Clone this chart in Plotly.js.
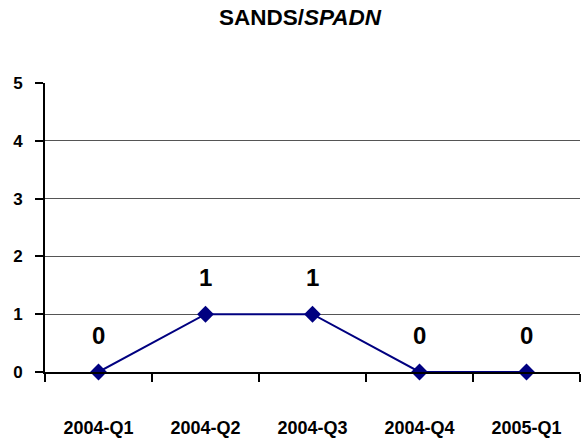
<!DOCTYPE html>
<html><head><meta charset="utf-8">
<script src="https://cdn.plot.ly/plotly-3.0.1.min.js"></script>
<style>html,body{margin:0;padding:0;background:#fff}#chart{width:583px;height:439px}</style>
</head><body><div id="chart"></div>
<script>
var categories = ["2004-Q1","2004-Q2","2004-Q3","2004-Q4","2005-Q1"];
var values = [0,1,1,0,0];
var yTicks = [0,1,2,3,4,5];

var trace = {
  x: categories, y: values, type: "scatter", mode: "lines+markers",
  line: {color: "#000080", width: 2},
  marker: {symbol: "diamond", size: 13, color: "#000080"},
  cliponaxis: false, hoverinfo: "none"
};
var annotations = categories.map(function(c, i){
  return {x: c, y: values[i], xref: "x", yref: "y", text: "<b>" + values[i] + "</b>",
    showarrow: false, yshift: 37, font: {family: "Liberation Sans, Arial", size: 24, color: "#000"}};
});
annotations.push({xref: "paper", yref: "paper", x: 0.478, y: 1, yshift: 66, yanchor: "middle", xanchor: "center",
  text: "<b>SANDS/<i>SPADN</i></b>", showarrow: false,
  font: {family: "Liberation Sans, Arial", size: 22.5, color: "#000"}});

var layout = {
  width: 583, height: 439,
  margin: {l: 45, r: 3, t: 83, b: 67},
  paper_bgcolor: "#fff", plot_bgcolor: "#fff",
  showlegend: false,
  font: {family: "Liberation Sans, Arial", color: "#000"},
  xaxis: {type: "category", tickson: "boundaries", ticks: "outside", ticklen: 8, tickwidth: 2, tickcolor: "#000",
    showline: true, linecolor: "#000", linewidth: 2, showgrid: false, zeroline: false,
    tickvals: categories, ticktext: categories.map(function(c){return "<b>" + c + "</b>";}),
    tickfont: {size: 18}, ticklabelstandoff: 38, range: [-0.5, 4.5]},
  yaxis: {range: [0, 5], tickvals: yTicks, ticktext: yTicks.map(function(v){return "<b>" + v + "</b>";}),
    ticks: "outside", ticklen: 8, tickwidth: 2,
    tickcolor: "#000", showline: true, linecolor: "#000", linewidth: 2, showgrid: true, gridcolor: "#555", gridwidth: 1,
    zeroline: false, tickfont: {size: 17}, ticklabelstandoff: 9},
  annotations: annotations
};
Plotly.newPlot("chart", [trace], layout, {displayModeBar: false, staticPlot: true});
</script></body></html>
